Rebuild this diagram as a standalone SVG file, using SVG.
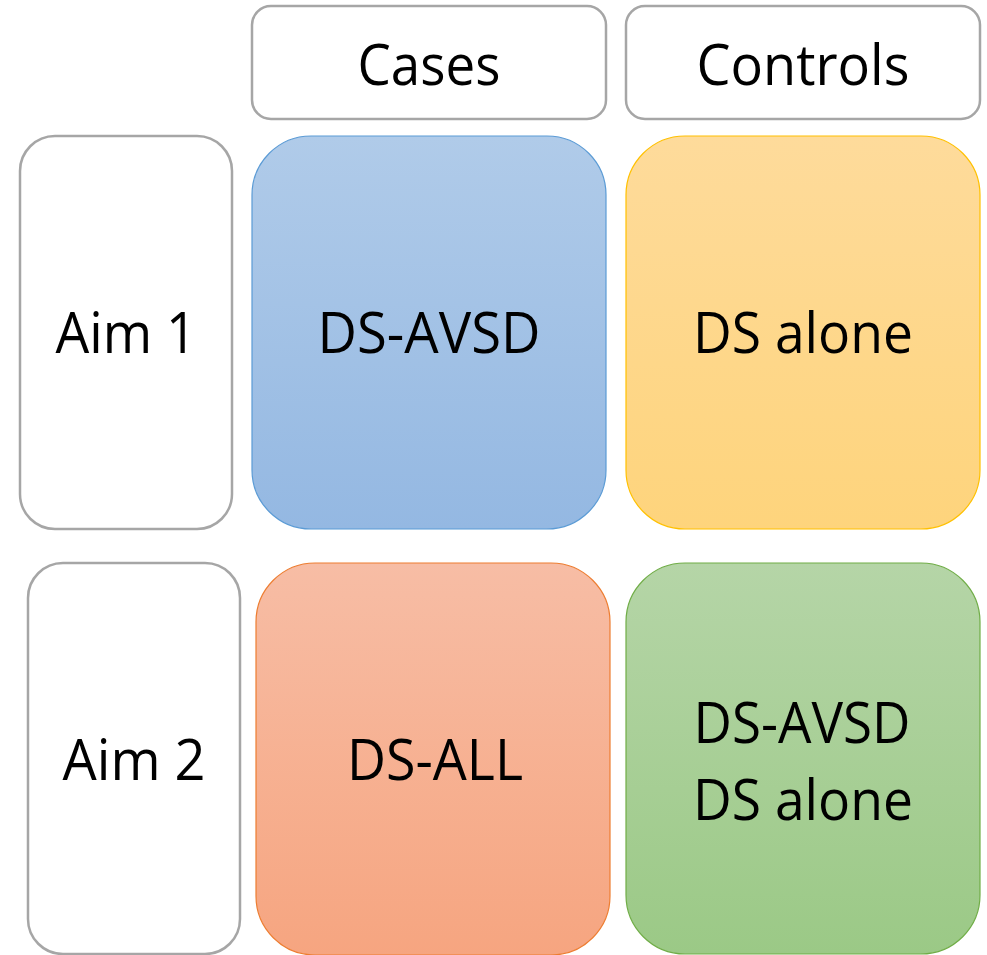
<svg xmlns="http://www.w3.org/2000/svg" width="987" height="955" viewBox="0 0 987 955">
<defs>
<linearGradient id="gBlue" x1="0" y1="0" x2="0" y2="1"><stop offset="0" stop-color="#b0cbe9"/><stop offset="1" stop-color="#94b8e2"/></linearGradient>
<linearGradient id="gYellow" x1="0" y1="0" x2="0" y2="1"><stop offset="0" stop-color="#fedb9b"/><stop offset="1" stop-color="#fed47c"/></linearGradient>
<linearGradient id="gOrange" x1="0" y1="0" x2="0" y2="1"><stop offset="0" stop-color="#f7bda5"/><stop offset="1" stop-color="#f6a580"/></linearGradient>
<linearGradient id="gGreen" x1="0" y1="0" x2="0" y2="1"><stop offset="0" stop-color="#b5d5a7"/><stop offset="1" stop-color="#9bc986"/></linearGradient>
</defs>
<style>
.lbl{fill:#a6a6a6;stroke:#a6a6a6}
.plain{fill:#ffffff;stroke:#a6a6a6;stroke-width:2.5}
.t{font-family:"Open Sans","Noto Sans","Liberation Sans",sans-serif;font-size:56px;fill:#000000;text-anchor:middle}
</style>
<rect width="987" height="955" fill="#ffffff"/>
<g id="connectors"></g>
<g id="cases">
<rect class="plain" x="252" y="6" width="354" height="113" rx="19" ry="19"/>
<text class="t" x="429" y="85" textLength="143" lengthAdjust="spacingAndGlyphs">Cases</text>
</g>
<g id="controls">
<rect class="plain" x="626" y="6" width="354" height="113" rx="19" ry="19"/>
<text class="t" x="803" y="85" textLength="213" lengthAdjust="spacingAndGlyphs">Controls</text>
</g>
<g id="aim1">
<rect class="plain" x="20" y="136" width="212" height="393" rx="35" ry="35"/>
<text class="t" x="126" y="353" textLength="141" lengthAdjust="spacingAndGlyphs">Aim 1</text>
</g>
<g id="ds-avsd">
<rect x="252" y="136" width="354" height="393" rx="59" ry="59" fill="url(#gBlue)" stroke="#5b9bd5" stroke-width="1.2"/>
<text class="t" x="429" y="353" textLength="223" lengthAdjust="spacingAndGlyphs">DS-AVSD</text>
</g>
<g id="ds-alone">
<rect x="626" y="136" width="354" height="393" rx="59" ry="59" fill="url(#gYellow)" stroke="#ffc000" stroke-width="1.2"/>
<text class="t" x="803" y="353" textLength="220" lengthAdjust="spacingAndGlyphs">DS alone</text>
</g>
<g id="aim2">
<rect class="plain" x="28" y="563" width="212" height="391" rx="35" ry="35"/>
<text class="t" x="134" y="780" textLength="143" lengthAdjust="spacingAndGlyphs">Aim 2</text>
</g>
<g id="ds-all">
<rect x="256" y="563" width="354" height="392" rx="59" ry="59" fill="url(#gOrange)" stroke="#ed7d31" stroke-width="1.2"/>
<text class="t" x="435" y="780" textLength="176" lengthAdjust="spacingAndGlyphs">DS-ALL</text>
</g>
<g id="ds-both">
<rect x="626" y="563" width="354" height="391" rx="59" ry="59" fill="url(#gGreen)" stroke="#70ad47" stroke-width="1.2"/>
<text class="t" x="802" y="743" textLength="217" lengthAdjust="spacingAndGlyphs">DS-AVSD</text>
<text class="t" x="803" y="820" textLength="220" lengthAdjust="spacingAndGlyphs">DS alone</text>
</g>
</svg>
